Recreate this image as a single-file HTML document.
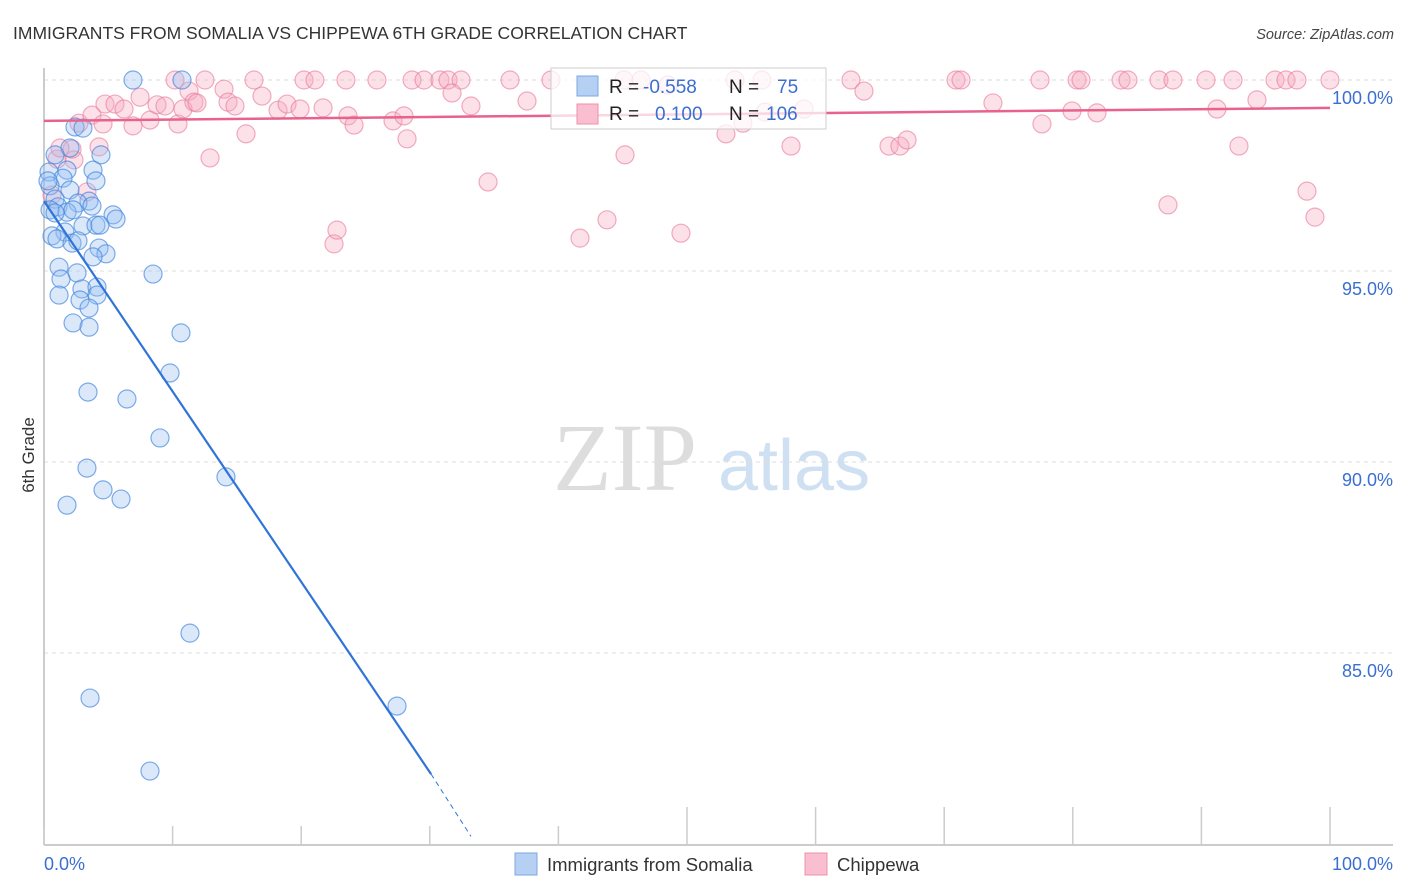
<!DOCTYPE html>
<html><head><meta charset="utf-8"><style>
body{margin:0;background:#fff;font-family:"Liberation Sans",sans-serif;}
svg{display:block}
</style></head><body>
<svg id="chart" width="1406" height="892" xmlns="http://www.w3.org/2000/svg">
<text x="13" y="39" font-size="17.5" fill="#333">IMMIGRANTS FROM SOMALIA VS CHIPPEWA 6TH GRADE CORRELATION CHART</text>
<text x="1394" y="39" font-size="14.5" fill="#444" font-style="italic" text-anchor="end">Source: ZipAtlas.com</text>
<text transform="translate(34,455) rotate(-90)" font-size="17" fill="#333" text-anchor="middle">6th Grade</text>
<g>
<text x="553" y="490" font-family="Liberation Serif,serif" font-size="96" fill="#ddd">ZIP</text>
<text x="718" y="490" font-size="72" fill="#cfe0f3">atlas</text>
</g>
<g id="grid"></g>
<g id="axes"></g>
<g id="pink"></g>
<g id="blue"></g>
<g id="trends"></g>
<g>
<rect x="551" y="68" width="275" height="61" fill="rgba(255,255,255,0.75)" stroke="#ccc"/>
<rect x="577" y="76" width="21" height="20" fill="#b6d0f3" stroke="#7aa7e6"/>
<rect x="577" y="104" width="21" height="20" fill="#f9bfd0" stroke="#ee8fab"/>
<text x="609" y="93" font-size="19" fill="#222">R =</text>
<text x="643" y="93" font-size="19" fill="#3a6fd1">-0.558</text>
<text x="729" y="93" font-size="19" fill="#222">N =</text>
<text x="777" y="93" font-size="19" fill="#3a6fd1">75</text>
<text x="609" y="120" font-size="19" fill="#222">R =</text>
<text x="655" y="120" font-size="19" fill="#3a6fd1">0.100</text>
<text x="729" y="120" font-size="19" fill="#222">N =</text>
<text x="766" y="120" font-size="19" fill="#3a6fd1">106</text>
</g>
<g>
<rect x="515" y="853" width="22" height="22" fill="#b6d0f3" stroke="#7aa7e6"/>
<text x="547" y="871" font-size="18.5" fill="#333">Immigrants from Somalia</text>
<rect x="805" y="853" width="22" height="22" fill="#f9bfd0" stroke="#ee8fab"/>
<text x="837" y="871" font-size="18.5" fill="#333">Chippewa</text>
</g>
</svg>
<script>
const yTicks=[100,95,90,85];
const yTickLabels=["100.0%","95.0%","90.0%","85.0%"];
const xTicks=[0,10,20,30,40,50,60,70,80,90,100];
const xEndLabels=["0.0%","100.0%"];
const blueX=[6.92,10.73,2.41,3.03,2.02,0.86,4.43,1.79,3.81,0.39,1.48,4.04,0.47,2.02,0.86,3.50,2.64,1.09,0.47,1.79,2.26,3.73,5.37,5.60,3.03,4.04,4.35,1.63,0.62,1.01,2.18,2.64,4.28,4.82,3.81,1.17,8.48,2.57,1.32,2.95,4.12,4.12,1.17,2.80,3.50,2.26,3.50,10.65,9.80,3.42,6.45,9.02,3.34,14.15,4.59,5.99,1.79,11.35,3.58,27.45,8.24,0.86,0.31];
const blueY=[100,100,98.77,98.74,98.22,98.04,98.04,97.64,97.64,97.59,97.43,97.36,97.23,97.12,96.88,96.83,96.78,96.68,96.60,96.54,96.60,96.70,96.47,96.36,96.18,96.20,96.20,96.02,95.92,95.84,95.73,95.79,95.60,95.45,95.37,95.10,94.92,94.95,94.79,94.53,94.58,94.37,94.37,94.24,94.03,93.64,93.53,93.38,92.33,91.83,91.65,90.63,89.84,89.61,89.27,89.03,88.87,85.52,83.82,83.61,81.91,96.52,97.36];
const pinkX=[10.19,12.52,16.33,20.22,21.07,23.48,25.89,28.62,29.55,30.79,31.42,32.43,36.24,39.42,45.10,46.42,53.73,55.83,62.75,70.92,71.31,77.45,80.33,80.64,83.75,84.29,86.70,87.79,90.36,92.46,95.72,96.58,97.43,100,
11.28,14.00,16.95,31.73,48.52,63.76,94.32,2.72,3.73,4.59,4.74,5.52,6.22,6.92,7.47,8.24,8.79,9.41,10.42,10.81,11.66,11.90,14.31,14.85,15.71,12.91,18.20,18.90,19.91,21.70,22.55,22.78,23.64,24.11,27.14,27.99,28.23,33.20,34.53,37.56,41.68,43.78,45.18,49.53,53.03,54.35,56.07,58.09,59.10,65.71,66.56,67.11,73.79,77.60,79.94,81.88,91.21,92.92,87.40,98.21,98.83,2.33,2.18,1.01,3.34,0.62,1.24,4.28];
const pinkY=[100,100,100,100,100,100,100,100,100,100,100,100,100,100,100,100,100,100,100,100,100,100,100,100,100,100,100,100,100,100,100,100,100,100,
99.71,99.76,99.58,99.66,99.87,99.71,99.48,98.87,99.08,98.85,99.37,99.37,99.24,98.80,99.55,98.95,99.35,99.32,98.85,99.24,99.42,99.40,99.42,99.32,98.59,97.96,99.21,99.37,99.24,99.27,95.71,96.07,99.06,98.82,98.93,99.06,98.46,99.32,97.33,99.45,95.86,96.34,98.04,95.99,98.59,98.87,99.16,98.27,99.24,98.27,98.27,98.43,99.40,98.85,99.19,99.14,99.24,98.27,96.73,97.09,96.41,97.91,98.19,97.93,97.07,96.99,98.22,98.25];
const blueTrend=[0,96.83,30.1,81.83,33.2,80.2];
const pinkTrend=[0,98.93,100,99.27];
const NS="http://www.w3.org/2000/svg";
const sx=v=>44+v*12.86;
const sy=v=>80+(100-v)*38.2;
function mk(tag,attrs,parent){const e=document.createElementNS(NS,tag);for(const k in attrs)e.setAttribute(k,attrs[k]);parent.appendChild(e);return e;}
const grid=document.getElementById('grid'),axes=document.getElementById('axes');
yTicks.forEach((t,i)=>{
 const l=mk('line',{x1:44,x2:1393,y1:sy(t),y2:sy(t),stroke:'#ddd','stroke-dasharray':'4,4'},grid);
 
 
 const tx=mk('text',{x:1393,y:sy(t)+24,'font-size':18,fill:'#3a6fd1','text-anchor':'end'},axes);
 tx.textContent=yTickLabels[i];
 
 
});
const ax=mk('line',{x1:44,x2:1393,y1:845,y2:845,stroke:'#bbb','stroke-width':1.5},axes);


const ay=mk('line',{x1:44,x2:44,y1:68,y2:845,stroke:'#bbb','stroke-width':1.5},axes);


xTicks.forEach(t=>{
 const tk=mk('line',{x1:sx(t),x2:sx(t),y1:t>=50?807:826,y2:845,stroke:'#ccc','stroke-width':1.5},axes);
 
 
});
[[0,'start'],[100,'end']].forEach((p,i)=>{
 const tx=mk('text',{x:i?1393:44,y:870,'font-size':18,fill:'#3a6fd1','text-anchor':p[1]},axes);
 tx.textContent=xEndLabels[i];
 
 
});
const pg=document.getElementById('pink');
pinkX.forEach((x,i)=>{
 const c=mk('circle',{cx:sx(x),cy:sy(pinkY[i]),r:9,fill:'rgba(246,168,192,0.35)',stroke:'rgba(232,120,156,0.6)','stroke-width':1.2},pg);
 
 
});
const bg=document.getElementById('blue');
blueX.forEach((x,i)=>{
 const c=mk('circle',{cx:sx(x),cy:sy(blueY[i]),r:9,fill:'rgba(150,190,240,0.35)',stroke:'rgba(60,130,220,0.65)','stroke-width':1.2},bg);
 
 
});
const tg=document.getElementById('trends');
const b1=mk('line',{x1:sx(blueTrend[0]),y1:sy(blueTrend[1]),x2:sx(blueTrend[2]),y2:sy(blueTrend[3]),stroke:'#2f74d6','stroke-width':2.2},tg);


const b2=mk('line',{x1:sx(blueTrend[2]),y1:sy(blueTrend[3]),x2:sx(blueTrend[4]),y2:sy(blueTrend[5]),stroke:'#2f74d6','stroke-width':1,'stroke-dasharray':'5,4'},tg);


const p1=mk('line',{x1:sx(pinkTrend[0]),y1:sy(pinkTrend[1]),x2:sx(pinkTrend[2]),y2:sy(pinkTrend[3]),stroke:'#e8628d','stroke-width':2.5},tg);


</script>
</body></html>
